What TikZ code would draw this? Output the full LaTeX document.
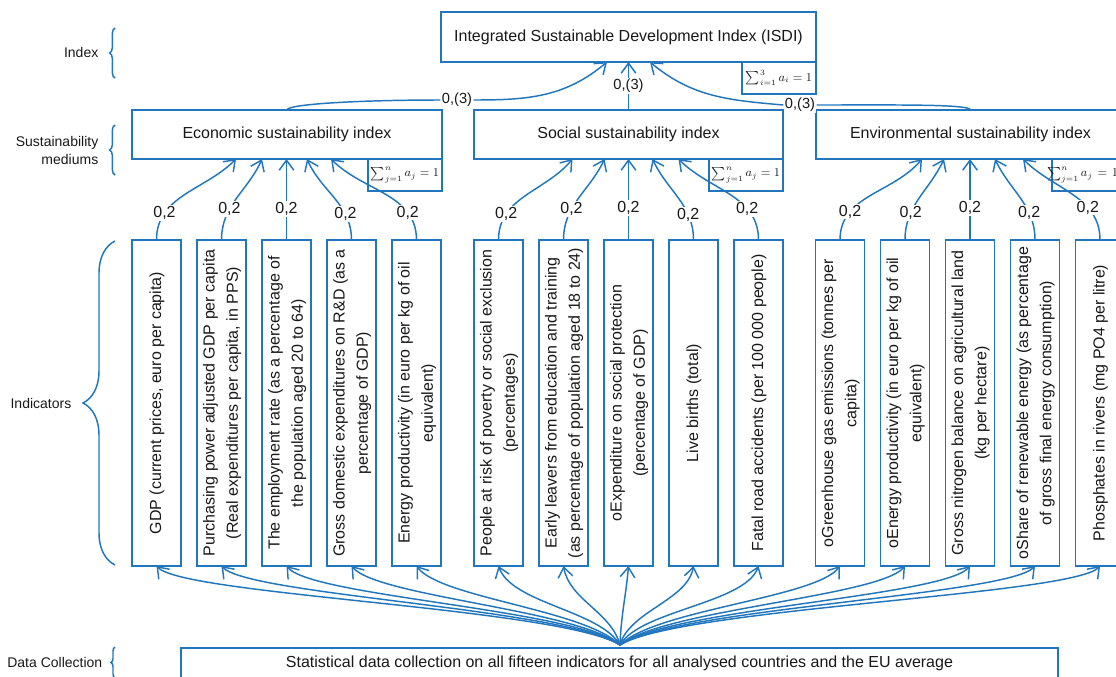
\documentclass[tikz,border=0pt]{standalone}
\usepackage{fontspec}
\setmainfont{Liberation Sans}
\usepackage{graphicx}
\usetikzlibrary{arrows.meta,decorations.pathreplacing,calc}
\definecolor{dblue}{RGB}{33,118,190}
\definecolor{txt}{RGB}{25,25,25}
\newcommand{\vtxt}[1]{\rotatebox{90}{\begin{tabular}{@{}c@{}}#1\end{tabular}}}
\begin{document}
\begin{tikzpicture}[x=0.75pt,y=0.75pt,
  box/.style={draw=dblue, line width=1.3pt, fill=white, inner sep=0pt, outer sep=0pt, text=txt, font=\fontsize{12}{17.5}\selectfont},
  sumbox/.style={draw=dblue, line width=1.1pt, fill=white, inner sep=0pt, outer sep=0pt, text=txt, font=\fontsize{9}{11}\selectfont, minimum width=55.5pt, minimum height=24pt, anchor=north east},
  ind/.style={box, minimum width=36.75pt, minimum height=244.5pt},
  lbl/.style={fill=white, inner sep=1pt, text=txt, font=\fontsize{12}{14}\selectfont},
  lblb/.style={lbl, font=\fontsize{11}{13}\selectfont},
  conn/.style={draw=dblue, line width=1.1pt},
  arr/.style={conn, -{Straight Barb[length=7.5pt,width=11pt]}},
  brc/.style={draw=dblue, line width=1.1pt, decorate},
  side/.style={text=txt, anchor=east, align=right, font=\fontsize{10.5}{13.5}\selectfont}
]
\useasboundingbox (0,0) rectangle (1116,-676);
\clip (0,0) rectangle (1116,-676);

% ---- top index
\node[box, minimum width=281.25pt, minimum height=37.5pt] (isdi) at (628.5,-37) {Integrated Sustainable Development Index (ISDI)};
\node[sumbox] (isdis) at (isdi.south east) {$\sum_{i=1}^{3} a_i = 1$};

% ---- mediums
\node[box, minimum width=232.5pt, minimum height=36.75pt] (eco) at (287,-134.5) {Economic sustainability index};
\node[box, minimum width=231.75pt, minimum height=36.75pt] (soc) at (628.5,-134.5) {Social sustainability index};
\node[box, minimum width=231.75pt, minimum height=36.75pt] (env) at (970.5,-134.5) {Environmental sustainability index};
\node[sumbox] (ecos) at (eco.south east) {$\sum_{j=1}^{n} a_j = 1$};
\node[sumbox] (socs) at (soc.south east) {$\sum_{j=1}^{n} a_j = 1$};
\node[sumbox, minimum width=52pt, anchor=north west] (envs) at ($(env.south east)+(-73,0)$) {\hspace{-6pt}$\sum_{j=1}^{n} a_j\mskip2mu=\mskip2mu1$};

% ---- indicators
\node[ind] (b1) at (156.5,-403) {\vtxt{GDP (current prices, euro per capita)}};
\node[ind] (b2) at (221.5,-403) {\vtxt{Purchasing power adjusted GDP per capita\\(Real expenditures per capita, in PPS)}};
\node[ind] (b3) at (286.5,-403) {\vtxt{The employment rate (as a percentage of\\the population aged 20 to 64)}};
\node[ind] (b4) at (351.5,-403) {\vtxt{Gross domestic expenditures on R\&D (as a\\percentage of GDP)}};
\node[ind] (b5) at (416.5,-403) {\vtxt{Energy productivity (in euro per kg of oil\\equivalent)}};
\node[ind] (b6) at (498.5,-403) {\vtxt{People at risk of poverty or social exclusion\\(percentages)}};
\node[ind] (b7) at (563.5,-403) {\vtxt{Early leavers from education and training\\(as percentage of population aged 18 to 24)}};
\node[ind] (b8) at (628.5,-403) {\vtxt{oExpenditure on social protection\\(percentage of GDP)}};
\node[ind] (b9) at (693.5,-403) {\vtxt{Live births (total)}};
\node[ind] (b10) at (758.5,-403) {\vtxt{Fatal road accidents (per 100 000 people)}};
\node[ind] (b11) at (840,-403) {\vtxt{oGreenhouse gas emissions (tonnes per\\capita)}};
\node[ind] (b12) at (905,-403) {\vtxt{oEnergy productivity (in euro per kg of oil\\equivalent)}};
\node[ind] (b13) at (970,-403) {\vtxt{Gross nitrogen balance on agricultural land\\(kg per hectare)}};
\node[ind] (b14) at (1035,-403) {\vtxt{oShare of renewable energy (as percentage\\of gross final energy consumption)}};
\node[ind] (b15) at (1100,-403) {\vtxt{Phosphates in rivers (mg PO4 per litre)}};

% ---- data collection
\node[box, anchor=north west, minimum width=657.75pt, minimum height=23pt, font=\fontsize{12}{14}\selectfont] (dc) at (181,-648) {Statistical data collection on all fifteen indicators for all analysed countries and the EU average};
\coordinate (hub) at (620,-645);

% ---- side labels and braces
\node[side] (lidx) at (103,-52) {Index};
\node[side] (lsus) at (103,-150) {Sustainability\\mediums};
\node[side] (lind) at (76,-403) {Indicators};
\node[side] (ldc) at (107,-662) {Data Collection};
\draw[brc, decoration={brace, amplitude=4pt}] (115,-78) -- (115,-28);
\draw[brc, decoration={brace, amplitude=4pt}] (115,-175) -- (115,-125);
\draw[brc, decoration={brace, amplitude=24pt}] (115,-565) -- (115,-241);
\draw[brc, decoration={brace, amplitude=3pt}] (115,-678) -- (115,-647);

% ---- mediums to ISDI
\node[lblb] (w1) at (457,-100) {0,(3)};
\node[lblb] (w3) at (800,-105) {0,(3)};
\draw[conn] (eco.north) to[out=90,in=180,out distance=4.5pt,in distance=60pt] (w1.west);
\draw[arr] (w1.east) to[out=0,in=-140,out distance=41pt,in distance=41pt] ($(isdi.south)+(-21.5,0)$);
\draw[arr] (soc.north) -- node[lblb] (w2) {0,(3)} (isdi.south);
\draw[conn] (env.north) to[out=90,in=0,out distance=4.5pt,in distance=60pt] (w3.east);
\draw[arr] (w3.west) to[out=175,in=-40,out distance=41pt,in distance=41pt] ($(isdi.south)+(21.5,0)$);

% ---- indicators to mediums
\draw[arr] (b1.north) to[out=90,in=-135] node[lbl,pos=.25] {0,2} ($(eco.south)+(-51,0)$);
\draw[arr] (b2.north) to[out=90,in=-114] node[lbl,pos=.35] {0,2} ($(eco.south)+(-25,0)$);
\draw[arr] (b3.north) -- node[lbl,pos=.38] {0,2} (b3.north |- eco.south);
\draw[arr] (b4.north) to[out=90,in=-66] node[lbl,pos=.28] {0,2} ($(eco.south)+(20,0)$);
\draw[arr] (b5.north) to[out=90,in=-45] node[lbl,pos=.25] {0,2} ($(eco.south)+(44,0)$);

\draw[arr] (b6.north) to[out=90,in=-130] node[lbl,pos=.25] {0,2} ($(soc.south)+(-56,0)$);
\draw[arr] (b7.north) to[out=90,in=-115] node[lbl,pos=.35] {0,2} ($(soc.south)+(-24,0)$);
\draw[arr] (b8.north) -- node[lbl,pos=.4] {0,2} (soc.south);
\draw[arr] (b9.north) to[out=90,in=-65] node[lbl,pos=.28] {0,2} ($(soc.south)+(24,0)$);
\draw[arr] (b10.north) to[out=90,in=-45] node[lbl,pos=.3] {0,2} ($(soc.south)+(50,0)$);

\draw[arr] (b11.north) to[out=90,in=-130] node[lbl,pos=.27] {0,2} ($(env.south)+(-48.5,0)$);
\draw[arr] (b12.north) to[out=90,in=-115] node[lbl,pos=.3] {0,2} ($(env.south)+(-26.5,0)$);
\draw[arr] (b13.north) -- node[lbl,pos=.4] {0,2} (b13.north |- env.south);
\draw[arr] (b14.north) to[out=90,in=-65] node[lbl,pos=.3] {0,2} ($(env.south)+(24.5,0)$);
\draw[arr] (b15.north) to[out=90,in=-45] node[lbl,pos=.32] {0,2} ($(env.south)+(52.5,0)$);

% ---- data collection fan
\draw[arr] (hub) to[out=148,in=-47,out distance=52.5pt,in distance=30pt] (b1.south);
\draw[arr] (hub) to[out=146,in=-47,out distance=49pt,in distance=30pt] (b2.south);
\draw[arr] (hub) to[out=143,in=-50,out distance=45pt,in distance=30pt] (b3.south);
\draw[arr] (hub) to[out=140,in=-50,out distance=41pt,in distance=30pt] (b4.south);
\draw[arr] (hub) to[out=135,in=-53,out distance=37.5pt,in distance=30pt] (b5.south);
\draw[arr] (hub) to[out=120,in=-70,out distance=30pt,in distance=30pt] (b6.south);
\draw[arr] (hub) to[out=105,in=-80,out distance=26pt,in distance=26pt] (b7.south);
\draw[arr] (hub) to[out=88,in=-95,out distance=22.5pt,in distance=22.5pt] (b8.south);
\draw[arr] (hub) to[out=75,in=-100,out distance=26pt,in distance=26pt] (b9.south);
\draw[arr] (hub) to[out=60,in=-110,out distance=30pt,in distance=30pt] (b10.south);
\draw[arr] (hub) to[out=45,in=-127,out distance=37.5pt,in distance=30pt] (b11.south);
\draw[arr] (hub) to[out=40,in=-130,out distance=41pt,in distance=30pt] (b12.south);
\draw[arr] (hub) to[out=37,in=-130,out distance=45pt,in distance=30pt] (b13.south);
\draw[arr] (hub) to[out=34,in=-133,out distance=49pt,in distance=30pt] (b14.south);
\draw[arr] (hub) to[out=32,in=-133,out distance=52.5pt,in distance=30pt] (b15.south);
\end{tikzpicture}
\end{document}
